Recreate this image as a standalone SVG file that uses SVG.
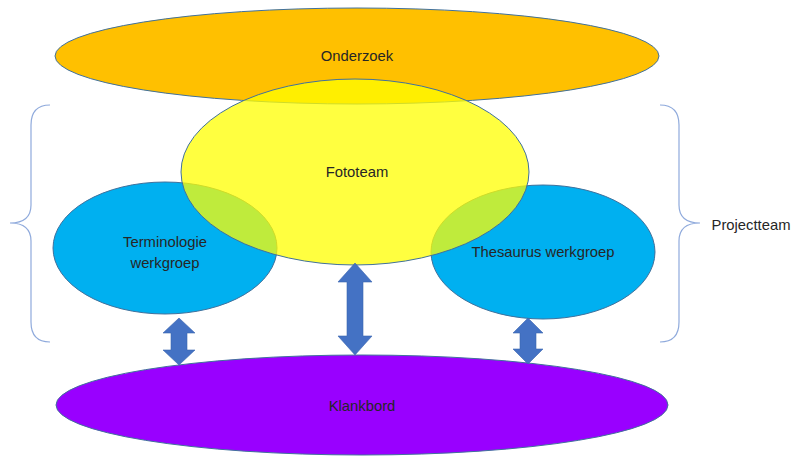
<svg xmlns="http://www.w3.org/2000/svg" width="793" height="457" viewBox="0 0 793 457">
<style>
.lbl{font-family:"Liberation Sans",Arial,sans-serif;font-size:14.8px;fill:#262626;text-anchor:middle;dominant-baseline:central}
.brace{fill:none;stroke:#8FAADC;stroke-width:1.2}
.arr{fill:#4472C4;stroke:#3A64B0;stroke-width:0.6}
.ol{stroke:#41719C;stroke-width:1}
</style>
<rect width="793" height="457" fill="#FFFFFF"/>
<g id="onderzoek">
<ellipse cx="357" cy="56" rx="302" ry="48" fill="#FFC000" class="ol"/>
<text class="lbl" x="357" y="56">Onderzoek</text>
</g>
<g id="terminologie">
<ellipse cx="165" cy="248" rx="112" ry="66" fill="#00B0F0" class="ol"/>
<text class="lbl" x="165" y="242">Terminologie</text>
<text class="lbl" x="165" y="263">werkgroep</text>
</g>
<g id="thesaurus">
<ellipse cx="543" cy="252" rx="112" ry="67" fill="#00B0F0" class="ol"/>
<text class="lbl" x="543" y="252">Thesaurus werkgroep</text>
</g>
<g id="fototeam">
<ellipse cx="355" cy="172" rx="174" ry="93" fill="#FFFF00" fill-opacity="0.75" class="ol"/>
<text class="lbl" x="357" y="172">Fototeam</text>
</g>
<g id="klankbord">
<ellipse cx="362" cy="405" rx="306" ry="50" fill="#9900FF" class="ol"/>
<text class="lbl" x="362" y="406">Klankbord</text>
</g>
<g id="projectteam">
<path class="brace" d="M50,105 Q31,105 31,125 L31,205 Q31,223 10,223 Q31,223 31,241 L31,322 Q31,342 50,342"/>
<path class="brace" d="M660,105 Q679,105 679,125 L679,205 Q679,223 700,223 Q679,223 679,241 L679,322 Q679,342 660,342"/>
<text class="lbl" x="751" y="225">Projectteam</text>
</g>
<g id="connectors">
<path class="arr" d="M179,318 L195,333 L187,333 L187,350 L195,350 L179,365 L163,350 L171,350 L171,333 L163,333 Z"/>
<path class="arr" d="M355,263 L372,282 L363,282 L363,336 L372,336 L355,355 L338,336 L347,336 L347,282 L338,282 Z"/>
<path class="arr" d="M528,318 L543,333 L536,333 L536,349 L543,349 L528,364 L513,349 L520,349 L520,333 L513,333 Z"/>
</g>
</svg>
